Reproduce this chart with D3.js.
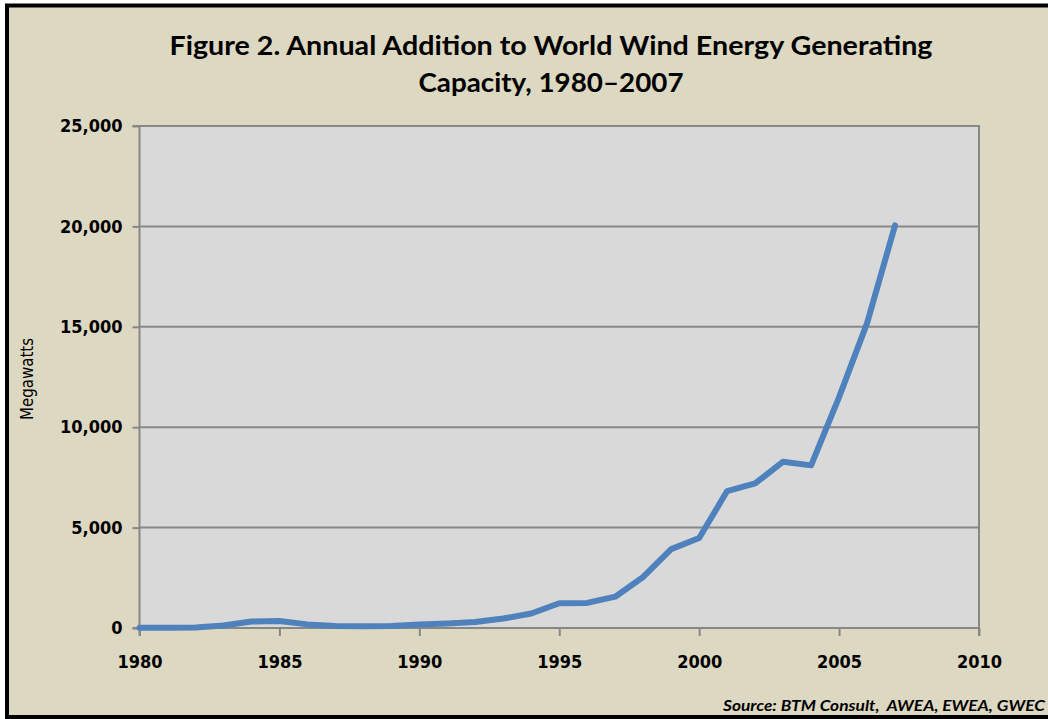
<!DOCTYPE html>
<html>
<head>
<meta charset="utf-8">
<script src="https://cdn.jsdelivr.net/npm/d3@7"></script>
<style>
  html, body { margin: 0; padding: 0; background: #ffffff; }
  svg { display: block; }
</style>
</head>
<body>
<script>
const years = [1980,1981,1982,1983,1984,1985,1986,1987,1988,1989,1990,1991,1992,1993,1994,1995,1996,1997,1998,1999,2000,2001,2002,2003,2004,2005,2006,2007];
const megawatts = [10,15,30,120,320,350,180,100,90,100,170,220,300,470,720,1230,1250,1560,2540,3930,4480,6820,7200,8280,8100,11500,15180,20050];
const yTicks = [0,5000,10000,15000,20000,25000];
const xTicks = [1980,1985,1990,1995,2000,2005,2010];
const titleLines = ["Figure 2. Annual Addition to World Wind Energy Generating", "Capacity, 1980\u20132007"];
const yLabel = "Megawatts";
const sourceText = "Source: BTM Consult,  AWEA, EWEA, GWEC";

const W = 1048, H = 719;
const plot = {left: 139.5, right: 979, top: 126, bottom: 628};

const svg = d3.select("body").append("svg").attr("width", W).attr("height", H);

// background + frame
svg.append("rect").attr("x", 7).attr("y", 5.5).attr("width", W + 10).attr("height", 711.5)
  .attr("fill", "#ddd8c2").attr("stroke", "#000").attr("stroke-width", 4);

const x = d3.scaleLinear().domain([1980, 2010]).range([plot.left, plot.right]);
const y = d3.scaleLinear().domain([0, 25000]).range([plot.bottom, plot.top]);

// plot area
svg.append("rect").attr("x", plot.left).attr("y", plot.top)
  .attr("width", plot.right - plot.left).attr("height", plot.bottom - plot.top)
  .attr("fill", "#d9d9d9");

// gridlines
svg.append("g").selectAll("line").data(yTicks.filter(d => d > 0)).join("line")
  .attr("x1", plot.left).attr("x2", plot.right)
  .attr("y1", d => y(d)).attr("y2", d => y(d))
  .attr("stroke", "#878787").attr("stroke-width", 2);

// right border
svg.append("line").attr("x1", plot.right).attr("x2", plot.right)
  .attr("y1", plot.top - 1).attr("y2", plot.bottom)
  .attr("stroke", "#878787").attr("stroke-width", 2);

// axes
const tickFont = "'DejaVu Sans Condensed', 'DejaVu Sans', sans-serif";
const yAxis = svg.append("g").attr("transform", `translate(${plot.left},0)`)
  .call(d3.axisLeft(y).tickValues(yTicks).tickSize(7).tickPadding(10).tickFormat(d3.format(",")));
const xAxis = svg.append("g").attr("transform", `translate(0,${plot.bottom})`)
  .call(d3.axisBottom(x).tickValues(xTicks).tickSize(8).tickPadding(19).tickFormat(d3.format("d")));
[yAxis, xAxis].forEach(g => {
  g.select(".domain").attr("stroke", "#878787").attr("stroke-width", 2);
  g.selectAll(".tick line").attr("stroke", "#878787").attr("stroke-width", 2);
  g.selectAll(".tick text").attr("fill", "#000").style("font-family", tickFont)
    .style("font-weight", "bold").style("font-size", "18px");
});
yAxis.select(".domain").attr("d", `M-7,${plot.top}H0V${plot.bottom}H-7`);
xAxis.select(".domain").attr("d", `M${plot.left},8V0H${plot.right}V8`);

// line
const line = d3.line().x((d, i) => x(years[i])).y(d => y(d));
svg.append("path").datum(megawatts).attr("d", line)
  .attr("fill", "none").attr("stroke", "#4f81bd").attr("stroke-width", 6)
  .attr("stroke-linejoin", "round").attr("stroke-linecap", "round");

// title
const titleFont = "Lato, 'Open Sans', sans-serif";
const tl = svg.append("g");
tl.append("text").attr("x", 551).attr("y", 55).attr("text-anchor", "middle")
  .attr("textLength", 763).attr("lengthAdjust", "spacingAndGlyphs")
  .style("font-family", titleFont).style("font-weight", "bold").style("font-size", "27px")
  .text(titleLines[0]);
tl.append("text").attr("x", 551).attr("y", 92).attr("text-anchor", "middle")
  .attr("textLength", 265).attr("lengthAdjust", "spacingAndGlyphs")
  .style("font-family", titleFont).style("font-weight", "bold").style("font-size", "27px")
  .text(titleLines[1]);

// y label
svg.append("text").attr("transform", "translate(33,379) rotate(-90)").attr("text-anchor", "middle")
  .attr("textLength", 82).attr("lengthAdjust", "spacingAndGlyphs")
  .style("font-family", "'DejaVu Sans', sans-serif").style("font-size", "17px")
  .text(yLabel);

// source
svg.append("text").attr("x", 1045).attr("y", 711).attr("text-anchor", "end")
  .attr("textLength", 322).attr("lengthAdjust", "spacingAndGlyphs")
  .attr("xml:space", "preserve").style("white-space", "pre")
  .style("font-family", titleFont).style("font-weight", "bold").style("font-style", "italic").style("font-size", "16px")
  .text(sourceText);
</script>
</body>
</html>
